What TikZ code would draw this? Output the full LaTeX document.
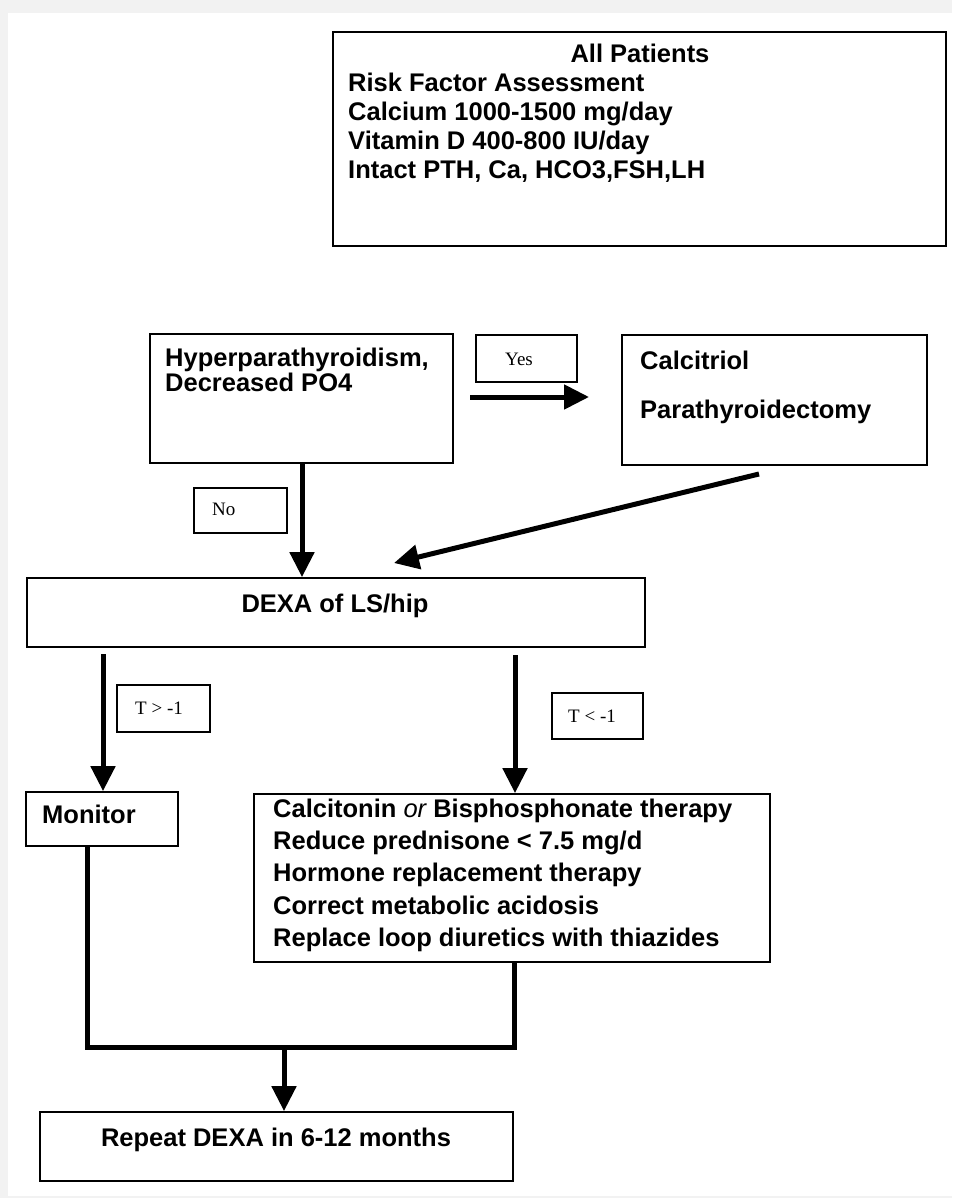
\documentclass[tikz,border=0pt]{standalone}
\usepackage{fontspec}
\setmainfont{Liberation Sans}
\newfontfamily\seriffont{Liberation Serif}
\usetikzlibrary{arrows.meta}
\begin{document}
\begin{tikzpicture}[x=1pt,y=-1pt,
  box/.style={draw=black, line width=1.8pt, inner sep=0pt, rectangle},
  lbl/.style={draw=black, line width=1.5pt, inner sep=0pt, rectangle},
  bt/.style={font=\fontsize{25.5}{29}\selectfont\bfseries, inner sep=0pt, anchor=base west},
  btc/.style={bt, anchor=base},
  st/.style={font=\seriffont\fontsize{19}{22}\selectfont, inner sep=0pt, anchor=base west},
  arr/.style={line width=5pt, -{Triangle[width=24pt,length=25pt]}},
  conn/.style={line width=5pt, line join=miter}
]
\useasboundingbox (0,0) rectangle (952,1198);
\fill[gray!10] (0,0) rectangle (952,1198);
\fill[white] (8,13) rectangle (952,1196);

% boxes
\node[box, minimum width=613pt, minimum height=214pt] (top) at (639.5,139) {};
\node[box, minimum width=303pt, minimum height=129pt] (hyp) at (301.5,398.5) {};
\node[lbl, minimum width=101pt, minimum height=47pt] (yes) at (526.5,358.5) {};
\node[box, minimum width=305pt, minimum height=130pt] (cal) at (774.5,400) {};
\node[lbl, minimum width=93pt, minimum height=45pt] (no) at (240.5,510.5) {};
\node[box, minimum width=618pt, minimum height=69pt] (dexa) at (336,612.5) {};
\node[lbl, minimum width=93pt, minimum height=47pt] (tgt) at (163.5,708.5) {};
\node[lbl, minimum width=91pt, minimum height=46pt] (tlt) at (597.5,716) {};
\node[box, minimum width=152pt, minimum height=54pt] (mon) at (102,819) {};
\node[box, minimum width=516pt, minimum height=168pt] (ther) at (512,878) {};
\node[box, minimum width=473pt, minimum height=69pt] (rep) at (276.5,1146.5) {};

% texts
\node[btc] (t0) at (640,63) {All Patients};
\node[bt] (t1) at (348,92) {Risk Factor Assessment};
\node[bt] (t2) at (348,121) {Calcium 1000-1500 mg/day};
\node[bt] (t3) at (348,150) {Vitamin D 400-800 IU/day};
\node[bt] (t4) at (348,179) {Intact PTH, Ca, HCO3,FSH,LH};

\node[bt] (h1t) at (165,366) {Hyperparathyroidism,};
\node[bt] (h2t) at (165,391) {Decreased PO4};

\node[st] (yest) at (505,365) {Yes};
\node[bt] (c1t) at (640,369) {Calcitriol};
\node[bt] (c2t) at (640,418) {Parathyroidectomy};

\node[st] (not) at (212,515) {No};
\node[btc] (dt) at (335,612) {DEXA of LS/hip};
\node[st] (tgtt) at (135,714) {T > -1};
\node[st] (tltt) at (568,722) {T < -1};

\node[bt] (mt) at (42,823) {Monitor};
\node[bt] (r1) at (273,817) {Calcitonin {\mdseries\itshape or} Bisphosphonate therapy};
\node[bt] (r2) at (273,849) {Reduce prednisone < 7.5 mg/d};
\node[bt] (r3) at (273,881) {Hormone replacement therapy};
\node[bt] (r4) at (273,914) {Correct metabolic acidosis};
\node[bt] (r5) at (273,946) {Replace loop diuretics with thiazides};

\node[btc] (rt) at (276,1146) {Repeat DEXA in 6-12 months};

% connectors
\coordinate (ya) at (470,397);
\coordinate (yb) at (589,397);
\draw[arr] (ya) -- (yb);

\coordinate (hx) at (302,463);
\draw[arr] (hyp.south -| hx) -- (dexa.north -| hx);

\coordinate (da) at (759,474);
\coordinate (db) at (394,563);
\draw[arr] (da) -- (db);

\coordinate (la) at (103,654);
\draw[arr] (la) -- (mon.north -| la);
\coordinate (ra) at (515,655);
\draw[arr] (ra) -- (ther.north -| ra);

\coordinate (j1) at (87,1047);
\coordinate (j2) at (514,1047);
\draw[conn] (mon.south -| j1) -- (j1) -- (j2) -- (ther.south -| j2);
\coordinate (j3) at (284,1047);
\draw[arr] (j3) -- (rep.north -| j3);
\end{tikzpicture}
\end{document}
